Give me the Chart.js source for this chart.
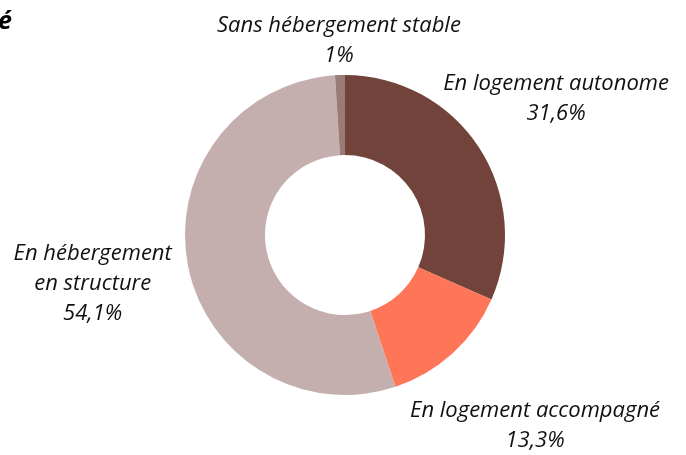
<!DOCTYPE html>
<html>
<head>
<meta charset="utf-8">
<script src="https://cdn.jsdelivr.net/npm/chart.js@4"></script>
<style>
  body { margin: 0; background: #fff; }
  #wrap { position: relative; width: 686px; height: 455px; overflow: hidden; }
  #title { position: absolute; left: -2px; top: 2px; font: italic bold 25px "Open Sans", sans-serif; color: #000; }
</style>
</head>
<body>
<div id="wrap">
  <div id="title">é</div>
  <canvas id="myChart" width="686" height="455"></canvas>
</div>
<script>
const labels = ['En logement autonome', 'En logement accompagné', 'En hébergement\nen structure', 'Sans hébergement stable'];
const values = [31.6, 13.3, 54.1, 1];
const valueLabels = ['31,6%', '13,3%', '54,1%', '1%'];
const colors = ['#71433B', '#FF7558', '#C4AFAE', '#9B7B76'];

// label placement: distance beyond outer edge, plus small nudges
const labelGap = [92, 109, 97, 34];
const labelNudge = [[0, 1], [9, -8], [0, 0], [0, 0]];

const outsideLabels = {
    id: 'outsideLabels',
    afterDraw(chart) {
        const ctx = chart.ctx;
        const meta = chart.getDatasetMeta(0);
        ctx.save();
        ctx.font = 'italic 22px "Open Sans", sans-serif';
        ctx.fillStyle = '#111';
        ctx.textAlign = 'center';
        ctx.textBaseline = 'middle';
        meta.data.forEach(function(arc, i) {
            const p = arc.getProps(['x', 'y', 'startAngle', 'endAngle', 'outerRadius']);
            const mid = (p.startAngle + p.endAngle) / 2;
            const r = p.outerRadius + labelGap[i];
            const cx = p.x + Math.cos(mid) * r + labelNudge[i][0];
            const cy = p.y + Math.sin(mid) * r + labelNudge[i][1];
            const lines = labels[i].split('\n').concat([valueLabels[i]]);
            const lh = 30;
            const top = cy - (lines.length - 1) * lh / 2;
            lines.forEach(function(t, k) {
                ctx.fillText(t, cx, top + k * lh);
            });
        });
        ctx.restore();
    }
};

const ctx = document.getElementById('myChart').getContext('2d');
const myChart = new Chart(ctx, {
    type: 'doughnut',
    data: {
        labels: labels,
        datasets: [{
            data: values,
            backgroundColor: colors,
            borderWidth: 0
        }]
    },
    options: {
        responsive: false,
        animation: false,
        cutout: '50%',
        layout: {
            padding: { top: 75, bottom: 60, left: 185, right: 181 }
        },
        plugins: {
            legend: { display: false },
            tooltip: { enabled: false }
        }
    },
    plugins: [outsideLabels]
});
</script>
</body>
</html>
